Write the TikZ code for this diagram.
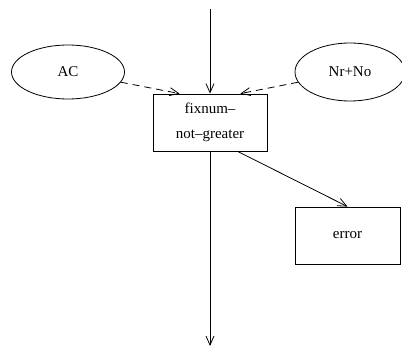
\documentclass[tikz,border=0pt]{standalone}
\usepackage{fontspec}
\setmainfont{Liberation Serif}
\usetikzlibrary{arrows.meta,shapes.geometric,calc}
\begin{document}
\begin{tikzpicture}[x=1pt,y=-1pt,
  every node/.style={font=\fontsize{15}{25}\selectfont, line width=0.8pt},
  oval/.style={draw, ellipse, inner sep=0pt},
  box/.style={draw, rectangle, inner sep=0pt, align=center},
  link/.style={line width=0.8pt, -{Straight Barb[length=9pt,width=8pt]}},
  dlink/.style={link, dash pattern=on 7pt off 5pt}]
\useasboundingbox (0,0) rectangle (402,347);
\node[oval, minimum width=113pt, minimum height=54pt] (ac) at (68,72) {AC};
\node[oval, minimum width=110pt, minimum height=58pt] (nr) at (350,72) {Nr+No};
\node[box, minimum width=114pt, minimum height=57pt] (fix) at (210,122.5) {fixnum–\\not–greater};
\node[box, minimum width=105pt, minimum height=57pt] (err) at (347.5,235.5) {error};
\coordinate (top) at (210,9);
\coordinate (bot) at (210,346);
\draw[link] (top) -- (fix.north);
\draw[link] (fix.south) -- (bot);
\draw[dlink] (ac) -- ($(fix.north west)+(27,0)$);
\draw[dlink] (nr) -- ($(fix.north east)+(-27,0)$);
\draw[link] ($(fix.south west)+(85,0)$) -- (err.north);
\end{tikzpicture}
\end{document}
